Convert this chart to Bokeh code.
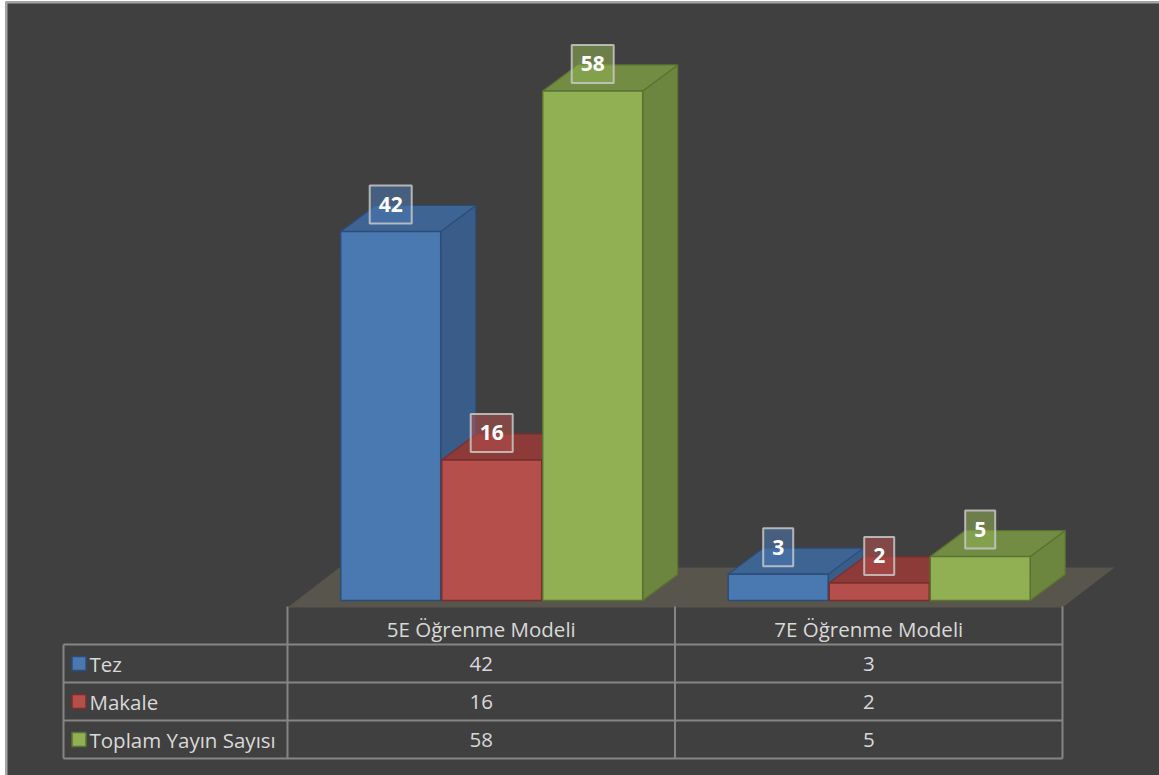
from bokeh.plotting import figure
from bokeh.models import Range1d, ColumnDataSource
from bokeh.core.properties import value
from bokeh.embed import file_html
from bokeh.resources import INLINE

# ---------------- data ----------------
categories = ["5E Öğrenme Modeli", "7E Öğrenme Modeli"]
series_names = ["Tez", "Makale", "Toplam Yayın Sayısı"]
tez = [42, 3]
makale = [16, 2]
toplam = [58, 5]
series_values = [tez, makale, toplam]

# ---------------- styles ----------------
front_colors = ["#4a78b1", "#b44f4c", "#91b054"]
top_colors = ["#3e6494", "#8c3b39", "#728c44"]
side_colors = ["#3a5c88", "#873836", "#6c853f"]
edge_colors = ["#2c4d78", "#7a2e2c", "#5a7330"]
BG = "#404040"
FLOOR = "#58554d"
GRID = "#858585"
TXT = "#d9d9d9"
FONT = "Open Sans"

W, H = 1159, 775
ML, MT = 5, 1                     # outer white margin
FW, FH = W - ML, H - MT           # frame size
X0_PX, CAT_PX = 282.0, 387.5      # category 0 left edge / category width (px, frame)
BASE_PX, UNIT_PX = 599.0, 8.786   # baseline position / px per value unit
ROW0_PX, ROW_PX = 605.0, 38.0     # table top / row height (px)

x_range = Range1d(-X0_PX / CAT_PX, (FW - X0_PX) / CAT_PX)
y_range = Range1d(-(FH - BASE_PX) / UNIT_PX, BASE_PX / UNIT_PX)
p = figure(width=W, height=H, output_backend="svg", toolbar_location=None,
           x_range=x_range, y_range=y_range,
           x_axis_location=None, y_axis_location=None,
           min_border_left=ML, min_border_top=MT, min_border_right=0, min_border_bottom=0)
p.extra_y_ranges = {"table": Range1d(start=(FH - ROW0_PX) / ROW_PX, end=-ROW0_PX / ROW_PX)}
p.grid.visible = False
p.background_fill_color = BG
p.border_fill_color = "white"
p.outline_line_color = None

px_x = 1.0 / CAT_PX
px_y = 1.0 / UNIT_PX
DX, DY = 35 * px_x, 26 * px_y        # bar depth
BAR_W = 100 * px_x
STRIDE = 101 * px_x
GROUP_C = 0.527

n_cat = len(categories)

# chart-area border (left and top edges only)
p.line([x_range.start + px_x, x_range.start + px_x], [y_range.start, y_range.end],
       line_color="#a6a6a6", line_width=2)
p.line([x_range.start, x_range.end], [y_range.end - px_y, y_range.end - px_y],
       line_color="#a6a6a6", line_width=2)

# ---------------- floor ----------------
f_front = -7 * px_y
f_back = 33 * px_y
f_dx = 52 * px_x
p.patch([0, n_cat, n_cat + f_dx, f_dx], [f_front, f_front, f_back, f_back],
        fill_color=FLOOR, line_color=None)

# ---------------- 3D bars ----------------
for k, vals in enumerate(series_values):
    x0s = [i + GROUP_C + (k - 1) * STRIDE - BAR_W / 2 for i in range(n_cat)]
    x1s = [x + BAR_W for x in x0s]
    side_xs = [[x1, x1 + DX, x1 + DX, x1] for x1 in x1s]
    side_ys = [[0, DY, v + DY, v] for v in vals]
    top_xs = [[x0, x1, x1 + DX, x0 + DX] for x0, x1 in zip(x0s, x1s)]
    top_ys = [[v, v, v + DY, v + DY] for v in vals]
    p.patches(side_xs, side_ys, fill_color=side_colors[k], line_color=edge_colors[k], line_width=1.2)
    p.patches(top_xs, top_ys, fill_color=top_colors[k], line_color=edge_colors[k], line_width=1.2)
    p.quad(left=x0s, right=x1s, bottom=0, top=vals, fill_color=front_colors[k],
           line_color=edge_colors[k], line_width=1.5)

# ---------------- data labels ----------------
for k, vals in enumerate(series_values):
    xs = [i + GROUP_C + (k - 1) * STRIDE for i in range(n_cat)]
    ys = [v + 27 * px_y for v in vals]
    txt = [str(v) for v in vals]
    widths = [18 + 12 * len(t) for t in txt]
    src = ColumnDataSource(dict(x=xs, y=ys, t=txt, w=widths))
    p.rect("x", "y", width="w", height=38, width_units="screen", height_units="screen",
           source=src, fill_color=front_colors[k], fill_alpha=0.55,
           line_color="#c8c8c8", line_alpha=0.85, line_width=2)
    p.text("x", "y", text="t", source=src, text_color="white", text_font=value(FONT),
           text_font_style="bold", text_font_size="21px", text_align="center",
           text_baseline="middle")

# ---------------- data table ----------------
tbl_left = -224 * px_x
n_rows = len(series_names) + 1
for r in range(1, n_rows + 1):
    p.line([tbl_left, n_cat], [r, r], y_range_name="table", line_color=GRID, line_width=2)
for c in range(n_cat + 1):
    p.line([c, c], [0, n_rows], y_range_name="table", line_color=GRID, line_width=2)
p.line([tbl_left, tbl_left], [1, n_rows], y_range_name="table", line_color=GRID, line_width=2)

p.text([i + 0.5 for i in range(n_cat)], [0.58] * n_cat, text=categories, y_range_name="table",
       text_color=TXT, text_font=value(FONT), text_font_size="20.5px",
       text_align="center", text_baseline="middle")

for k, name in enumerate(series_names):
    r = k + 1.5
    p.scatter([tbl_left + 15.5 * px_x], [r], y_range_name="table", marker="square", size=14,
              fill_color=front_colors[k], line_color=edge_colors[k], line_width=1.5)
    p.text([tbl_left + 26 * px_x], [r], text=[name], y_range_name="table",
           text_color=TXT, text_font=value(FONT), text_font_size="20.5px",
           text_align="left", text_baseline="middle")
    vals = series_values[k]
    p.text([i + 0.5 for i in range(n_cat)], [r] * n_cat, text=[str(v) for v in vals],
           y_range_name="table", text_color=TXT, text_font=value(FONT),
           text_font_size="20.5px", text_align="center", text_baseline="middle")

open("out.html", "w").write(file_html(p, INLINE))
